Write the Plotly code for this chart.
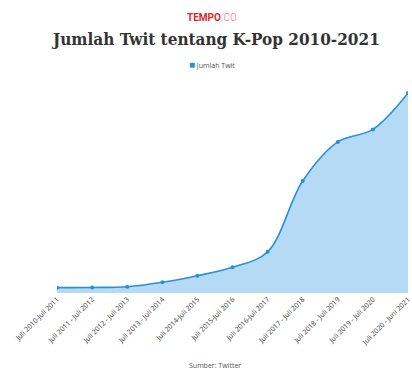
import plotly.graph_objects as go

categories = [
    "Juli 2010-Juli 2011", "Juli 2011 - Juli 2012", "Juli 2012 - Juli 2013",
    "Juli 2013 - Juli 2014", "Juli 2014-Juli 2015", "Juli 2015-Juli 2016",
    "Juli 2016-Juli 2017", "Juli 2017 - Juli 2018", "Juli 2018 - Juli 2019",
    "Juli 2019 - Juli 2020", "Juli 2020 - Juni 2021",
]
jumlah_twit = [180, 185, 210, 360, 580, 860, 1380, 3750, 5060, 5480, 6700]
series_name = "Jumlah Twit"

LINE = "#2b8fd8"

fig = go.Figure()
fig.add_trace(go.Scatter(
    x=categories, y=jumlah_twit, name=series_name, showlegend=False,
    mode="lines+markers", line=dict(color=LINE, width=1.6, shape="spline", smoothing=1.0),
    marker=dict(size=4, color=LINE),
    fill="tozeroy", fillcolor="rgba(160,207,244,0.78)",
))

T, B = 84, 77
plot_h = 370 - T - B
def py(pix):
    return (370 - B - pix) / plot_h
def px(pix):
    return (pix - 57) / 351

fig.update_layout(
    width=412, height=370,
    margin=dict(l=57, r=4, t=T, b=B, autoexpand=False),
    paper_bgcolor="white", plot_bgcolor="white",
    showlegend=False,
    xaxis=dict(type="category", range=[0, 10], showgrid=False, zeroline=False,
               showline=False, tickangle=-45, automargin=False,
               tickfont=dict(size=7, color="#3a3a3a", family="Open Sans"),
               ticks="", ticklen=0),
    yaxis=dict(range=[0, 7000], visible=False, showgrid=False, zeroline=False,
               automargin=False),
    annotations=[
        dict(text="<b>TEMPO</b><span style='color:#f3a0a0'>.CO</span>", x=px(212),
             xref="paper", y=py(18), yref="paper", yanchor="middle", showarrow=False,
             font=dict(size=10, color="#e0262f", family="Roboto")),
        dict(text="<b>Jumlah Twit tentang K-Pop 2010-2021</b>", xref="paper", x=px(215),
             yref="paper", y=py(39), yanchor="middle", showarrow=False,
             font=dict(size=17, color="#333", family="DejaVu Serif Condensed")),
        dict(text=f"<span style='color:{LINE};font-size:10px'>■</span> {series_name}",
             xref="paper", x=px(212), yref="paper", y=py(64), yanchor="middle",
             showarrow=False, font=dict(size=7, color="#555", family="Open Sans")),
        dict(text="Sumber: Twitter", xref="paper", x=px(215), yref="paper", y=py(365),
             yanchor="middle", showarrow=False,
             font=dict(size=7, color="#555", family="Open Sans")),
    ],
)

fig.write_html("out.html", config={"displayModeBar": False},
               post_script="document.body.style.margin='0';document.body.style.overflow='hidden';")
